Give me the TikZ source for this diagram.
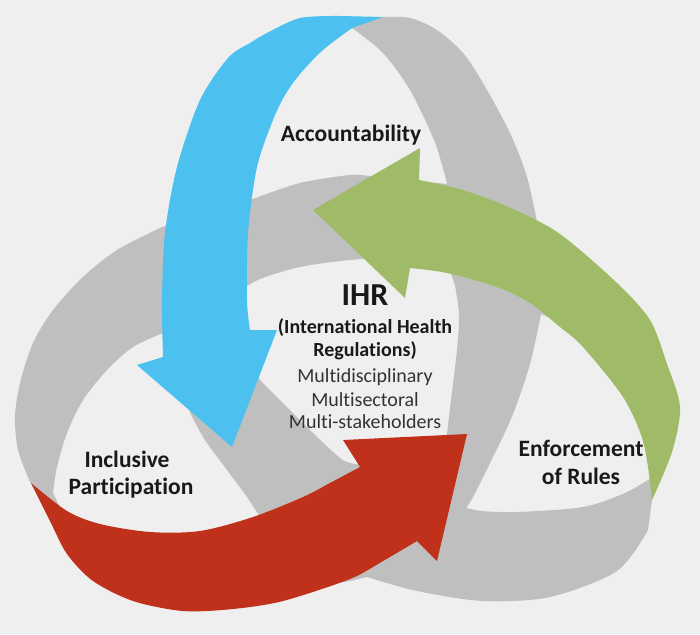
\documentclass[tikz,border=0pt]{standalone}
\usepackage{fontspec}
\setmainfont{Carlito}[Ligatures=NoCommon]
\definecolor{bgcol}{HTML}{F0EFEF}
\definecolor{bandcol}{HTML}{BFBFBF}
\definecolor{acccol}{HTML}{4CC0EE}
\definecolor{enfcol}{HTML}{9FBB67}
\definecolor{inccol}{HTML}{C0311B}
\begin{document}
\begin{tikzpicture}[x=1pt,y=-1pt,
    lbl/.style={anchor=base,font=\fontsize{23.5}{28}\selectfont\bfseries,text=black!90},
    sub/.style={anchor=base,font=\fontsize{20}{24}\selectfont\bfseries,text=black!90},
    sublight/.style={anchor=base,font=\fontsize{20}{24}\selectfont,text=black!80}]
            \fill [bgcol] (0,0) rectangle (700,634);
            \fill [bandcol, even odd rule]
                plot [smooth] coordinates {(330,18) (383,17) (410,18) (437,30) (463,53) (483,83) (510,133) (527,177) (537,222)} -- (600,300) -- (650,380) -- (662,440) -- (654,485) -- plot [smooth] coordinates {(648,530) (617,571) (550,597) (483,601) (417,591) (367,577)} -- (345,582) -- (230,590) -- (130,570) -- (60,520) -- plot [smooth] coordinates {(30,482) (18,450) (15,417) (20,383) (33,343) (53,310) (83,277) (117,250) (160,228)} -- (205,210) -- (215,120) -- (255,45) -- (300,20) -- cycle
                plot [smooth] coordinates {(352,28) (383,53) (410,90) (434,140) (444,172) (447,184)} -- plot [smooth] coordinates {(420,181) (395,178) (370,176) (350,175) (300,183) (250,200) (235,206)} -- plot [smooth] coordinates {(238,160) (262,100) (300,60)} -- cycle
                plot [smooth] coordinates {(238,292) (260,279) (300,267) (350,260) (400,257) (430,262)} -- (448,265) -- plot [smooth] coordinates {(455,285) (459,315) (457,350) (451,400) (446,442)} -- (390,470) -- plot [smooth] coordinates {(364,465) (343,460) (313,433) (287,407) (262,382) (255,372)} -- (240,330) -- cycle
                plot [smooth] coordinates {(172,330) (163,333) (133,347) (107,370) (83,400) (67,433) (57,467) (53,493)} -- (70,528) -- (150,545) -- (240,532) -- plot [smooth] coordinates {(262,520) (247,497) (227,470) (203,437) (186,404)} -- (175,380) -- (170,345) -- cycle
                plot [smooth] coordinates {(541,314) (530,364) (513,414) (493,457) (473,497) (466,508)} -- plot [smooth] coordinates {(480,511) (517,512) (583,507) (625,493) (651,478)} -- plot [smooth] coordinates {(656,450) (645,400) (610,355) (565,325)} -- cycle;
            \fill [acccol] plot [smooth] coordinates {(163,357) (162,300) (165,233) (177,167) (200,100) (228,58) (250,43) (267,33) (300,18) (340,16)} -- (383,17) -- plot [smooth] coordinates {(352,28) (323,50) (300,74) (285,95) (273,120) (257,167) (248,233) (247,300) (250,330)} -- (277,330) -- (232,447) -- (137,365) -- cycle;
            \fill [enfcol] (313,210) -- (420,148) -- plot [smooth] coordinates {(419,180) (463,190) (513,209) (560,234) (617,283) (650,320) (667,364) (680,407) (672,452) (652,500)} -- plot [smooth] coordinates {(651,490) (643,441) (623,397) (583,347) (560,327) (530,303) (497,287) (447,273) (410,268)} -- (405,298) -- cycle;
            \fill [inccol] plot [smooth] coordinates {(31,483) (50,521) (67,554) (93,581) (133,601) (183,611) (233,609) (283,601) (350,579) (383,561) (417,541)} -- (437,561) -- (467,434) -- (343,440) -- plot [smooth] coordinates {(360,467) (330,483) (303,497) (253,517) (200,531) (150,532) (100,524) (67,511) (31,483)} -- cycle;
            \node [lbl] (accountability) at (351,141) {Accountability};
            \node [lbl] (inclusive) at (127,467) {Inclusive};
            \node [lbl] (participation) at (131,494) {Participation};
            \node [lbl] (enforcement) at (581,456) {Enforcement};
            \node [lbl] (ofrules) at (581,484) {of Rules};
            \node [lbl, font=\fontsize{32}{38}\selectfont\bfseries] (ihr) at (365,305) {IHR};
            \node [sub] (ihrname) at (365,333) {(International Health};
            \node [sub] (ihrreg) at (365,356) {Regulations)};
            \node [sublight] (multidisc) at (365,382) {Multidisciplinary};
            \node [sublight] (multisect) at (365,406) {Multisectoral};
            \node [sublight] (multistake) at (365,428) {Multi-stakeholders};
        \end{tikzpicture}
\end{document}
